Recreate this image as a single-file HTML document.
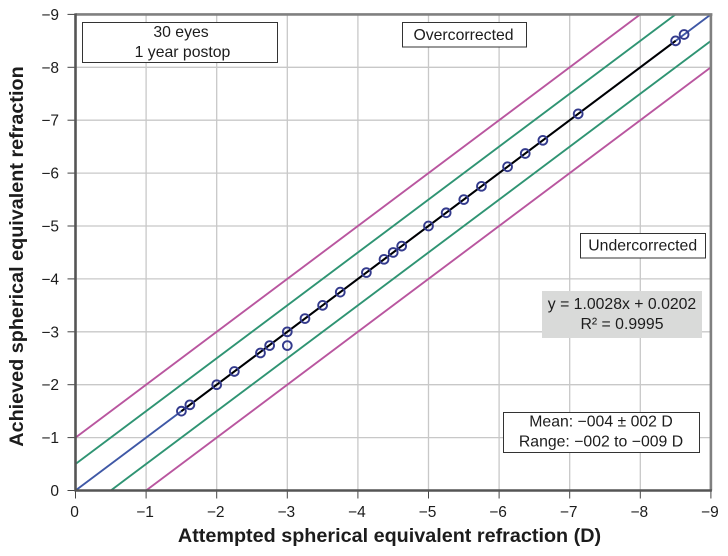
<!DOCTYPE html>
<html>
<head>
<meta charset="utf-8">
<style>
html,body{margin:0;padding:0;background:#fff;width:728px;height:556px;overflow:hidden}
svg{display:block;font-family:"Liberation Sans",sans-serif}
text{fill:#1c1c1c}
</style>
</head>
<body>
<svg id="chart" width="728" height="556" viewBox="0 0 728 556" xmlns="http://www.w3.org/2000/svg">
<g id="grid"></g>
<g id="refs"></g>
<g id="axes"></g>
<g id="marks"></g>
<text x="389.5" y="542" text-anchor="middle" font-size="19.8" font-weight="bold">Attempted spherical equivalent refraction (D)</text>
<text transform="translate(23 256.5) rotate(-90)" text-anchor="middle" font-size="19.8" font-weight="bold">Achieved spherical equivalent refraction</text>
<g>
<rect x="82.5" y="22.5" width="195" height="40" fill="#fff" stroke="#333" stroke-width="1"/>
<text x="181" y="37" text-anchor="middle" font-size="15.8">30 eyes</text>
<text x="182.5" y="57" text-anchor="middle" font-size="15.8">1 year postop</text>
</g>
<g>
<rect x="402.5" y="22.5" width="124" height="24.5" fill="#fff" stroke="#333" stroke-width="1"/>
<text x="463.5" y="40" text-anchor="middle" font-size="15.8">Overcorrected</text>
</g>
<g>
<rect x="580.5" y="233.5" width="125" height="24.5" fill="#fff" stroke="#333" stroke-width="1"/>
<text x="642.7" y="250.7" text-anchor="middle" font-size="15.8">Undercorrected</text>
</g>
<g>
<rect x="542" y="291" width="160" height="47" fill="#d9dad9"/>
<text x="622" y="309" text-anchor="middle" font-size="15.8">y = 1.0028x + 0.0202</text>
<text x="622" y="329" text-anchor="middle" font-size="15.8">R² = 0.9995</text>
</g>
<g>
<rect x="503.5" y="412.5" width="196" height="40" fill="#fff" stroke="#333" stroke-width="1"/>
<text x="601" y="426.7" text-anchor="middle" font-size="15.8">Mean: −004 ± 002 D</text>
<text x="601" y="446.7" text-anchor="middle" font-size="15.8">Range: −002 to −009 D</text>
</g>
</svg>
<script>
var xTicks = [0, 1, 2, 3, 4, 5, 6, 7, 8, 9];
var yTicks = [0, 1, 2, 3, 4, 5, 6, 7, 8, 9];
var attempted = [1.5, 1.62, 2, 2.25, 2.62, 2.75, 3, 3, 3.25, 3.5, 3.75, 4.12, 4.37, 4.5, 4.62, 5, 5.25, 5.5, 5.75, 6.12, 6.37, 6.62, 7.12, 8.5, 8.62];
var achieved = [1.5, 1.62, 2, 2.25, 2.6, 2.74, 3, 2.74, 3.25, 3.5, 3.75, 4.12, 4.37, 4.5, 4.62, 5, 5.25, 5.5, 5.75, 6.12, 6.37, 6.62, 7.12, 8.5, 8.62];
var refOffsets = [1, 0.5, 0, -0.5, -1];
var trendRange = [1.5, 8.5];
var axisMax = 9;

var NS = 'http://www.w3.org/2000/svg';
function sx(v) { return 75.5 + v * 70.6; }
function sy(v) { return 490.5 - v * 52.9; }
function make(parent, tag, attrs, txt) {
  var e = document.createElementNS(NS, tag);
  for (var k in attrs) e.setAttribute(k, attrs[k]);
  if (txt !== undefined) e.textContent = txt;
  parent.appendChild(e);
  return e;
}
function tickLabel(v) { return v === 0 ? '0' : '\u2212' + v; }

var grid = document.getElementById('grid');
var axes = document.getElementById('axes');
var refs = document.getElementById('refs');
var marks = document.getElementById('marks');

xTicks.forEach(function (v) {
  if (v > 0 && v < axisMax) {
    var g = make(grid, 'line', {x1: sx(v), x2: sx(v), y1: sy(0), y2: sy(axisMax), stroke: '#c8c8c8', 'stroke-width': 1.3});
    
    
  }
  var t = make(axes, 'line', {x1: sx(v), x2: sx(v), y1: sy(0), y2: sy(0) + 8, stroke: '#444', 'stroke-width': 1});
  
  
  var l = make(axes, 'text', {x: sx(v) - (v === 0 ? 1 : 1), y: 517, 'text-anchor': 'middle', 'font-size': 15.5}, tickLabel(v));
  
  
});
yTicks.forEach(function (v) {
  if (v > 0 && v < axisMax) {
    var g = make(grid, 'line', {x1: sx(0), x2: sx(axisMax), y1: sy(v), y2: sy(v), stroke: '#c8c8c8', 'stroke-width': 1.3});
    
    
  }
  var t = make(axes, 'line', {x1: sx(0) - 8, x2: sx(0), y1: sy(v), y2: sy(v), stroke: '#444', 'stroke-width': 1});
  
  
  var l = make(axes, 'text', {x: 59, y: sy(v) + 5.5, 'text-anchor': 'end', 'font-size': 15.5}, tickLabel(v));
  
  
});

var topBorder = make(axes, 'line', {x1: sx(0), x2: sx(axisMax) + 1.5, y1: sy(axisMax), y2: sy(axisMax), stroke: '#808080', 'stroke-width': 2.6});


var rightBorder = make(axes, 'line', {x1: sx(axisMax), x2: sx(axisMax), y1: sy(axisMax), y2: sy(0), stroke: '#808080', 'stroke-width': 2.6});


var xAxis = make(axes, 'line', {x1: sx(0), x2: sx(axisMax) + 1, y1: sy(0), y2: sy(0), stroke: '#555', 'stroke-width': 2.6});


var yAxis = make(axes, 'line', {x1: sx(0), x2: sx(0), y1: sy(axisMax) - 1, y2: sy(0) + 1, stroke: '#555', 'stroke-width': 2.6});



refOffsets.forEach(function (o) {
  var x0 = Math.max(0, -o), x1 = Math.min(axisMax, axisMax - o);
  var abs = Math.abs(o);
  var color = abs === 1 ? '#b9569f' : abs === 0.5 ? '#2f9473' : '#3f58a6';
  var r = make(refs, 'line', {x1: sx(x0), y1: sy(x0 + o), x2: sx(x1), y2: sy(x1 + o), stroke: color, 'stroke-width': 1.9});
  
  
});

var trend = make(refs, 'line', {x1: sx(trendRange[0]), y1: sy(trendRange[0]), x2: sx(trendRange[1]), y2: sy(trendRange[1]), stroke: '#000', 'stroke-width': 2});



attempted.forEach(function (a, i) {
  var c = make(marks, 'circle', {cx: sx(a), cy: sy(achieved[i]), r: 4.4, fill: 'none', stroke: '#333a8c', 'stroke-width': 1.9});
  
  
});
</script>
</body>
</html>
